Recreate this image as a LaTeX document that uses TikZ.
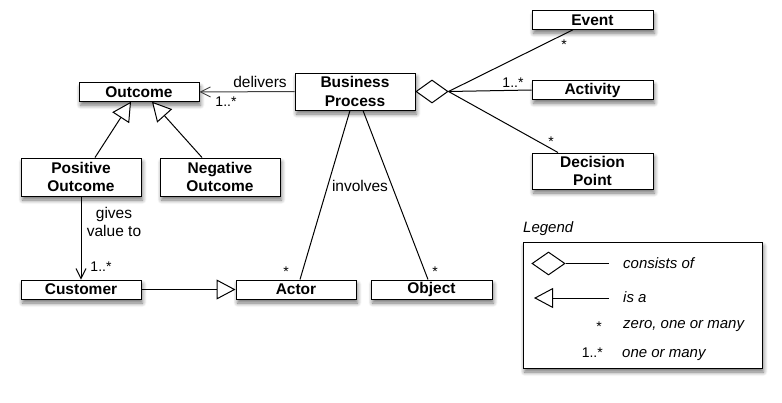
\documentclass[tikz,border=0pt]{standalone}
\usepackage{fontspec}
\setmainfont{Liberation Sans}
\usetikzlibrary{arrows.meta,shapes.geometric,shadows.blur}
\begin{document}
\begin{tikzpicture}[x=1pt,y=-1pt,
  shad/.style={blur shadow={shadow xshift=1.5pt, shadow yshift=-4pt, shadow blur steps=6, shadow blur radius=4pt, shadow opacity=55}},
  cls/.style={draw=black, line width=1pt, fill=white, inner sep=0pt, align=center,
    minimum width=120pt, minimum height=18.5pt,
    font=\fontsize{15.5}{18.5}\selectfont\bfseries, shad},
  lbl/.style={inner sep=0pt, font=\fontsize{15.5}{18}\selectfont, anchor=base},
  mult/.style={inner sep=0pt, font=\fontsize{14}{16}\selectfont, anchor=base},
  leg/.style={inner sep=0pt, font=\fontsize{15}{18}\selectfont\itshape, anchor=base west},
  conn/.style={draw=black, line width=1pt},
  dia/.style={draw=black, line width=1pt, fill=white, shape=diamond, inner sep=0pt,
    minimum width=32pt, minimum height=23pt},
  isa/.style={-{Triangle[length=19pt,width=20pt,fill=white,line width=1pt]}},
  nav/.style={-{Straight Barb[length=10pt,width=10pt,line width=0.9pt]}}
]
\useasboundingbox (0,0) rectangle (782,402);

% classes
\node[cls] (outcome) at (139,92) {Outcome};
\node[cls, minimum height=37pt] (bp) at (355,91.5) {Business\\Process};
\node[cls, minimum height=38pt] (po) at (81,177) {Positive\\Outcome};
\node[cls, minimum height=38pt] (no) at (220,177) {Negative\\Outcome};
\node[cls, minimum width=121pt] (event) at (592.5,20) {Event};
\node[cls, minimum width=121pt] (activity) at (592.5,90) {Activity};
\node[cls, minimum width=121pt, minimum height=36pt] (dp) at (592.5,171) {Decision\\Point};
\node[cls, minimum height=19pt] (customer) at (81,289.5) {Customer};
\node[cls, minimum height=19pt] (actor) at (296,289.5) {Actor};
\node[cls, minimum width=121pt, minimum height=19pt] (object) at (431.5,289.5) {Object};

% aggregation diamond
\node[dia] (agg) at (432,91.5) {};

% connectors
\draw[conn, nav, draw=black!75] (bp.west) -- (outcome.east);
\draw[conn, isa] ([xshift=14pt]po.north) -- ([xshift=-8pt]outcome.south);
\draw[conn, isa] ([xshift=-18pt]no.north) -- ([xshift=13pt]outcome.south);
\draw[conn, nav] (po.south) -- (customer.north);
\draw[conn, isa] (customer.east) -- (actor.west);
\draw[conn] ([xshift=-5pt]bp.south) -- ([xshift=4pt]actor.north);
\draw[conn] ([xshift=8pt]bp.south) -- ([xshift=-3.5pt]object.north);
\draw[conn] (agg.east) -- ([xshift=-19.5pt]event.south);
\draw[conn] (agg.east) -- (activity.west);
\draw[conn] (agg.east) -- ([xshift=-34.5pt]dp.north);

% labels
\node[lbl] (ldeliv) at (260,87) {delivers};
\node[mult] (m1) at (226,106) {1..*};
\node[lbl] (linv) at (360,191) {involves};
\node[lbl, anchor=center, align=center] (lgives) at (114,222) {gives\\value to};
\node[mult] (m2) at (101,271) {1..*};
\node[mult] (m3) at (286,276.5) {*};
\node[mult] (m4) at (435,276.5) {*};
\node[mult] (m5) at (564,49) {*};
\node[mult] (m6) at (513,87) {1..*};
\node[mult] (m7) at (551,146) {*};

% legend
\node[leg] (legtitle) at (523,232) {Legend};
\node[draw=black, line width=1pt, fill=white, inner sep=0pt, minimum width=239pt,
  minimum height=126pt, shad] (legbox) at (642.5,305) {};
\node[dia, minimum width=33pt] (ldia) at (548.5,263.5) {};
\coordinate (ldiaend) at (609,263.5);
\draw[conn] (ldia.east) -- (ldiaend);
\node[leg] (lcons) at (623,268) {consists of};
\coordinate (lisastart) at (609,298);
\coordinate (lisaend) at (534,298);
\draw[conn, isa] (lisastart) -- (lisaend);
\node[leg] (lisa) at (623,302) {is a};
\node[mult] (lstar) at (599,331) {*};
\node[leg] (lzero) at (623,328) {zero, one or many};
\node[mult, anchor=base east] (lone) at (603,357) {1..*};
\node[leg] (lonem) at (622,357) {one or many};
\end{tikzpicture}
\end{document}
